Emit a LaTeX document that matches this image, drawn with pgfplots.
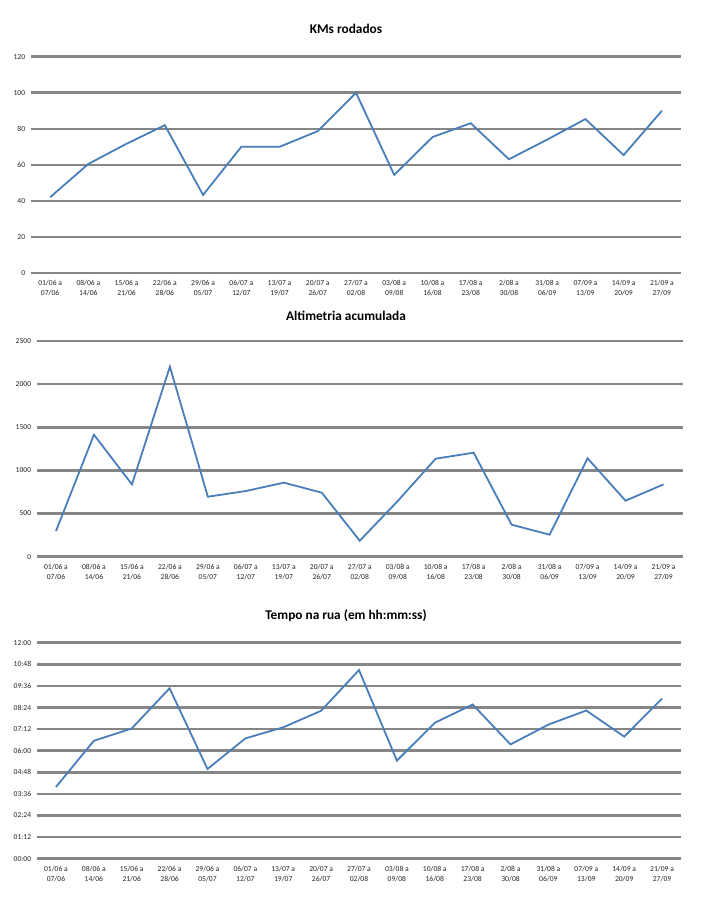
\documentclass[border=0pt]{standalone}
\usepackage{fontspec}
\setmainfont{Carlito}
\usepackage{pgfplots}
\pgfplotsset{compat=1.18}
\definecolor{gridgray}{RGB}{134,134,134}
\definecolor{lineblue}{RGB}{74,126,187}
\pgfplotsset{
  mystyle/.style={
    scale only axis,
    anchor=south west,
    xmin=-0.5, xmax=16.5,
    xtick={0,...,16},
    xticklabels={{01/06 a\\07/06},{08/06 a\\14/06},{15/06 a\\21/06},{22/06 a\\28/06},{29/06 a\\05/07},{06/07 a\\12/07},{13/07 a\\19/07},{20/07 a\\26/07},{27/07 a\\02/08},{03/08 a\\09/08},{10/08 a\\16/08},{17/08 a\\23/08},{2/08 a\\30/08},{31/08 a\\06/09},{07/09 a\\13/09},{14/09 a\\20/09},{21/09 a\\27/09}},
    axis line style={draw=none},
    major tick length=0pt,
    ymajorgrids,
    grid style={gridgray, line width=1.9pt},
    tick label style={font=\fontsize{5.7}{7.5}\selectfont, text=black!85, inner sep=0pt},
    xticklabel style={align=center, yshift=-5.5pt},
    yticklabel style={xshift=-4.2pt},
    /pgf/number format/assume math mode=true,
    /pgf/number format/1000 sep={},
    title style={font=\fontsize{10}{12}\selectfont\bfseries, anchor=center},
    clip=false,
  },
  myline/.style={lineblue, line width=1.35pt, no markers, line join=miter},
}
\begin{document}
\begin{tikzpicture}
\useasboundingbox (0,0) rectangle (528pt,672.75pt);
% Chart 1
\begin{axis}[mystyle,
  at={(23.25pt,468pt)}, width=487.5pt, height=162.225pt,
  ymin=0, ymax=120, ytick={0,20,...,120},
  title={KMs rodados},
  title style={at={(axis description cs:0.4846,1)}, yshift=14.55pt},
]
\addplot[myline] coordinates {
(0,42) (1,60.5) (2,71.7) (3,82) (4,43.3) (5,70) (6,70) (7,78.7) (8,100)
(9,54.4) (10,75.4) (11,83.1) (12,63.1) (13,74) (14,85.4) (15,65.4) (16,90)
};
\end{axis}
% Chart 2
\begin{axis}[mystyle,
  at={(27.75pt,255.225pt)}, width=484.125pt, height=161.775pt,
  ymin=0, ymax=2500, ytick={0,500,...,2500},
  title={Altimetria acumulada},
  title style={at={(axis description cs:0.4787,1)}, yshift=12.75pt},
]
\addplot[myline] coordinates {
(0,297) (1,1414) (2,838) (3,2202) (4,695) (5,761) (6,858) (7,742) (8,185)
(9,645) (10,1136) (11,1205) (12,371) (13,255) (14,1140) (15,649) (16,838)
};
\end{axis}
% Chart 3 (minutes)
\begin{axis}[mystyle,
  at={(27.75pt,28.725pt)}, width=483pt, height=162pt,
  ymin=0, ymax=720, ytick={0,72,...,720},
  yticklabels={00:00,01:12,02:24,03:36,04:48,06:00,07:12,08:24,09:36,10:48,12:00},
  title={Tempo na rua (em hh:mm:ss)},
  title style={at={(axis description cs:0.4798,1)}, yshift=14.025pt},
]
\addplot[myline] coordinates {
(0,239) (1,393) (2,434) (3,568) (4,299) (5,401) (6,438) (7,493) (8,629)
(9,327) (10,453) (11,514) (12,381) (13,447) (14,494) (15,407) (16,534)
};
\end{axis}
\end{tikzpicture}
\end{document}
